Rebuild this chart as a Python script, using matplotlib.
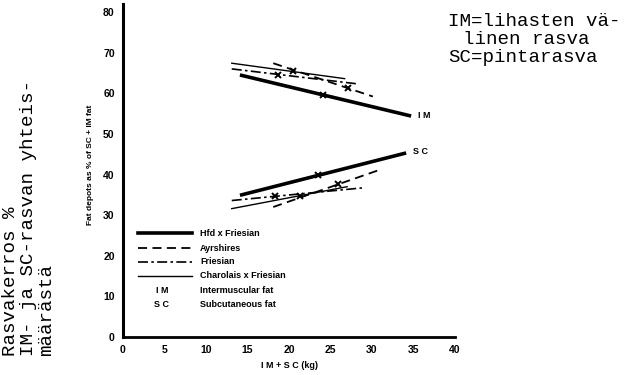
import matplotlib
matplotlib.use("Agg")
import matplotlib.pyplot as plt

# Lihasten välinen rasva (IM) ja pintarasva (SC), % yhteismäärästä
rodut = ["Hfd x Friesian", "Ayrshires", "Friesian", "Charolais x Friesian"]

im_x = [[14.3, 34.5], [18.1, 30.1], [13.1, 28.3], [13.1, 26.7]]
im_y = [[64.4, 54.5], [67.4, 59.2], [66.0, 62.3], [67.4, 63.6]]
im_mx = [24.1, 27.1, 18.7, 20.5]
im_my = [59.6, 61.2, 64.6, 65.5]

sc_x = [[14.3, 33.9], [18.1, 30.7], [13.1, 28.8], [13.1, 27.0]]
sc_y = [[35.0, 45.2], [32.0, 41.0], [33.6, 36.7], [31.6, 37.0]]
sc_mx = [23.5, 25.9, 18.3, 21.3]
sc_my = [39.8, 37.6, 34.6, 34.8]

x_ticks = [0, 5, 10, 15, 20, 25, 30, 35, 40]
y_ticks = [0, 10, 20, 30, 40, 50, 60, 70, 80]

tyylit = [
    dict(lw=2.6, ls="-"),
    dict(lw=1.3, ls=(0, (5, 3))),
    dict(lw=1.2, ls=(0, (6, 2, 1.5, 2))),
    dict(lw=1.0, ls="-"),
]

sans = "Liberation Sans"
mono = "Liberation Mono"

fig = plt.figure(figsize=(6.34, 3.75), dpi=100)
ax = fig.add_axes([0.194, 0.1013, 0.5237, 0.8883])

for i in range(len(rodut)):
    ax.plot(im_x[i], im_y[i], color="black", **tyylit[i])
    ax.plot(sc_x[i], sc_y[i], color="black", **tyylit[i])
    ax.plot(im_mx[i], im_my[i], "x", color="black", ms=4.5, mew=1.4)
    ax.plot(sc_mx[i], sc_my[i], "x", color="black", ms=4.5, mew=1.4)

ax.text(im_x[0][1] + 1.0, im_y[0][1], "I M", fontsize=6.5, fontweight="bold",
        family=sans, va="center")
ax.text(sc_x[0][1] + 1.0, sc_y[0][1] + 0.5, "S C", fontsize=6.5, fontweight="bold",
        family=sans, va="center")

ax.set_xlim(0, 40)
ax.set_ylim(0, 82)
ax.set_xticks(x_ticks)
ax.set_yticks(y_ticks)
ax.tick_params(length=0, labelsize=7.5, pad=6)
for lab in ax.get_xticklabels() + ax.get_yticklabels():
    lab.set_fontweight("bold")
    lab.set_family(sans)
ax.spines["top"].set_visible(False)
ax.spines["right"].set_visible(False)
ax.spines["left"].set_linewidth(2.2)
ax.spines["bottom"].set_linewidth(2.0)
ax.set_xlabel("I M + S C (kg)", fontsize=6.5, fontweight="bold", family=sans, labelpad=4)

# selite
rivit_y = [0.312, 0.267, 0.226, 0.184, 0.141, 0.099]
for i in range(len(rodut)):
    ax.plot([0.045, 0.208], [rivit_y[i], rivit_y[i]], color="black",
            transform=ax.transAxes, **tyylit[i])
    ax.text(0.232, rivit_y[i], rodut[i], transform=ax.transAxes, fontsize=6.5,
            fontweight="bold", family=sans, va="center")
for j, (lyh, nimi) in enumerate([("I M", "Intermuscular fat"), ("S C", "Subcutaneous fat")]):
    ax.text(0.117, rivit_y[4 + j], lyh, transform=ax.transAxes, fontsize=6.5,
            fontweight="bold", family=sans, va="center", ha="center")
    ax.text(0.232, rivit_y[4 + j], nimi, transform=ax.transAxes, fontsize=6.5,
            fontweight="bold", family=sans, va="center")

fig.text(90 / 634, 1 - 165 / 375, "Fat depots as % of SC + IM fat", rotation=90,
         fontsize=6, fontweight="bold", family=sans, ha="center", va="center")

# suomenkieliset tekstit
vasen = ["Rasvakerros %", "IM- ja SC-rasvan yhteis-", "määrästä"]
for k, rivi in enumerate(vasen):
    fig.text((11 + 18 * k) / 634, 1 - 356 / 375, rivi, rotation=90, fontsize=13.8,
             family=mono, ha="center", va="bottom")

oikea = [("IM=lihasten vä-", 448, 21), ("linen rasva", 463, 39), ("SC=pintarasva", 448, 57)]
for rivi, px, py in oikea:
    fig.text(px / 634, 1 - py / 375, rivi, fontsize=13.8, family=mono,
             ha="left", va="center")

fig.savefig("out.png", dpi=100)
